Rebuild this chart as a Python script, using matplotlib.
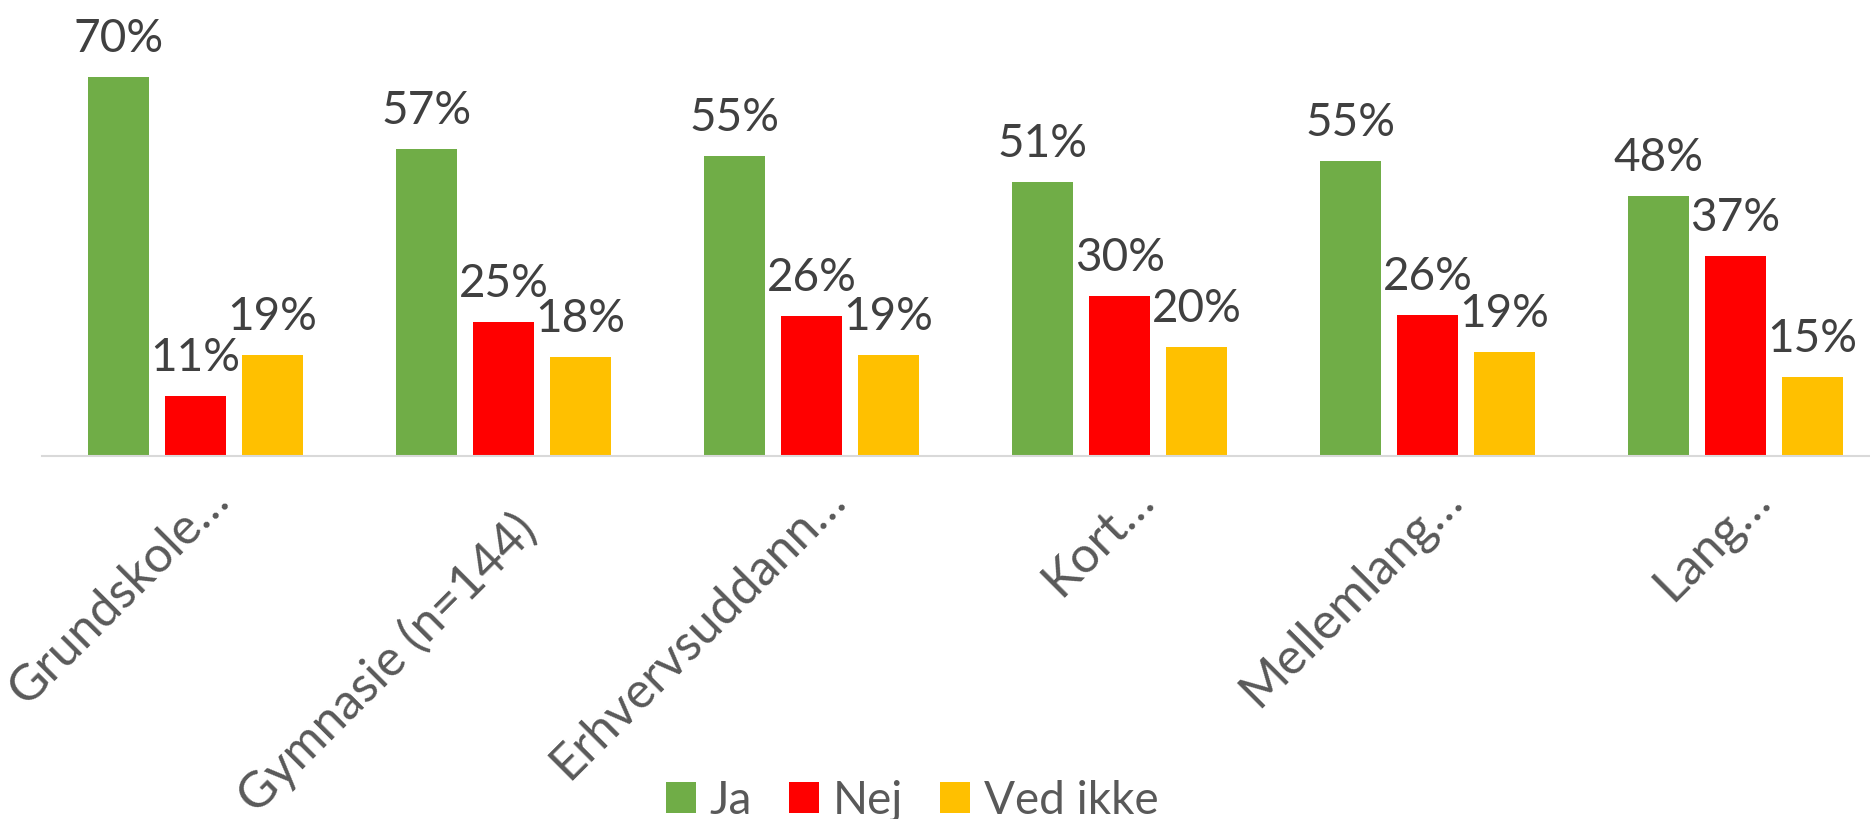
import matplotlib
matplotlib.use('Agg')
import matplotlib.pyplot as plt
import numpy as np

plt.rcParams['font.family'] = ['Lato', 'DejaVu Sans']

# 数据：类别、三个系列的百分比（按图中柱高读取）
categories = ['Grundskole…', 'Gymnasie (n=144)', 'Erhvervsuddann…',
              'Kort…', 'Mellemlang…', 'Lang…']
series_names = ['Ja', 'Nej', 'Ved ikke']
ja = [70.1, 56.8, 55.4, 50.7, 54.6, 48.1]
nej = [11.1, 24.7, 25.9, 29.6, 26.1, 37.0]
ved_ikke = [18.6, 18.3, 18.6, 20.2, 19.2, 14.7]
colors = ['#70AD47', '#FF0000', '#FFC000']

fig = plt.figure(figsize=(18.7, 8.19), dpi=100)
ax = fig.add_axes([0.02225, 0.4432, 0.98824, 0.5282])

x = np.arange(len(categories))
width = 0.198
step = 0.25
for k, (name, vals) in enumerate(zip(series_names, [ja, nej, ved_ikke])):
    pos = x + (k - 1) * step
    ax.bar(pos, vals, width=width, color=colors[k], label=name, zorder=2)
    # 数据标签
    for px, v in zip(pos, vals):
        ax.annotate('%.0f%%' % v, xy=(px, v), xytext=(0, 18),
                    textcoords='offset points', ha='center', va='baseline',
                    fontsize=33, color='#404040', annotation_clip=False)

ax.set_xlim(-0.5, 5.5)
ax.set_ylim(0, 80)
ax.set_yticks([])
ax.set_xticks([])
for s in ['top', 'right', 'left']:
    ax.spines[s].set_visible(False)
ax.spines['bottom'].set_color('#D9D9D9')
ax.spines['bottom'].set_linewidth(1.5)

# 旋转的类别标签（截断的标签位置略高）
for i, lab in enumerate(categories):
    dy = -55 if lab.endswith(')') else -33
    ax.annotate(lab, xy=(i, 0), xytext=(26, dy), textcoords='offset points',
                ha='right', va='baseline', rotation=45, rotation_mode='anchor',
                fontsize=36, color='#595959', annotation_clip=False)

leg = fig.legend(loc='center', bbox_to_anchor=(0.4877, 0.022), ncol=3,
                 frameon=False, fontsize=33, handlelength=0.66,
                 handleheight=0.66, handletextpad=0.3, columnspacing=0.8,
                 borderpad=0)
for t in leg.get_texts():
    t.set_color('#595959')

fig.savefig('out.png', dpi=100)
